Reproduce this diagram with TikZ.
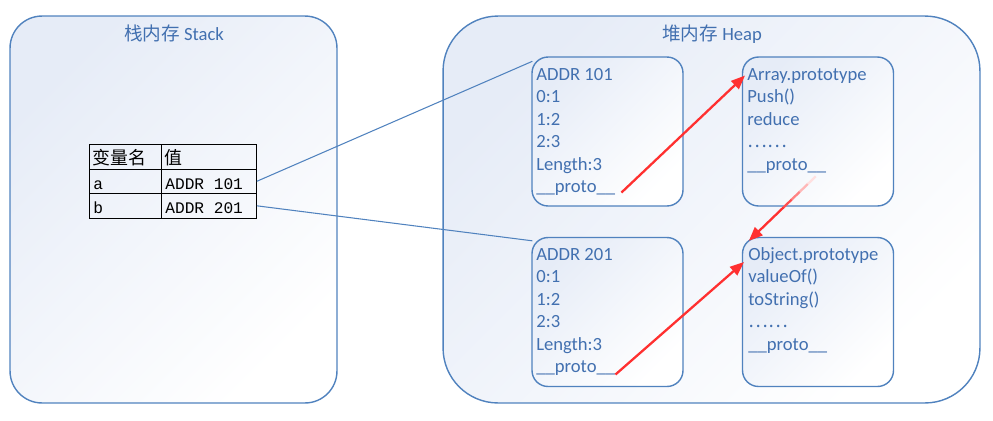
\documentclass[tikz,border=0pt]{standalone}
\usepackage{fontspec}
\setmainfont{Carlito}
\newfontfamily\cjk{Noto Sans CJK SC}
\newfontfamily\monofont{Liberation Mono}
\usetikzlibrary{arrows.meta,calc}
\definecolor{txtblue}{RGB}{66,112,176}
\definecolor{lineblue}{RGB}{80,130,190}
\definecolor{shadeA}{RGB}{230,236,247}
\definecolor{shadeB}{RGB}{246,248,252}
\definecolor{arrred}{RGB}{255,48,48}
\tikzset{
  region/.style={draw=lineblue, line width=0.8pt, top color=shadeA, middle color=shadeB, bottom color=white, shading angle=45, minimum height=7.74cm},
  membox/.style={draw=lineblue, line width=0.8pt, top color=shadeA, middle color=shadeB, bottom color=white, shading angle=45, rounded corners=0.32cm, minimum width=3.02cm, minimum height=2.98cm},
  txt/.style={anchor=base west, inner sep=0pt, text=txtblue, font=\fontsize{10.6pt}{12pt}\selectfont},
  ttl/.style={anchor=base, inner sep=0pt, text=txtblue, font=\fontsize{10.6pt}{12pt}\selectfont},
  cell/.style={draw=black, line width=0.6pt, inner sep=0pt},
  ctxt/.style={anchor=base west, inner sep=0pt, font=\fontsize{9.2pt}{11pt}\selectfont\monofont},
  cjktxt/.style={anchor=base west, inner sep=0pt, font=\fontsize{10.2pt}{11pt}\selectfont\cjk},
  link/.style={draw=lineblue, line width=0.6pt},
  redarrow/.style={draw=arrred, line width=1.3pt, -{Triangle[length=0.28cm,width=0.22cm]}}
}
\begin{document}
\begin{tikzpicture}[x=0.02cm,y=-0.02cm]
\useasboundingbox (0,0) rectangle (993,420);
% regions
\node[region, minimum width=6.54cm, rounded corners=0.64cm] (stack) at (173.5,209.5) {};
\node[region, minimum width=10.74cm, rounded corners=1.1cm] (heap) at (711.5,209.5) {};
\node[ttl] (tstack) at (174,40) {{\cjk 栈内存} Stack};
\node[ttl] (theap) at (712,40) {{\cjk 堆内存} Heap};
% table
\node[cell, minimum width=1.434cm, minimum height=0.5cm] (h1) at (125.3,156.8) {};
\node[cell, minimum width=1.9cm, minimum height=0.5cm] (h2) at (208.8,156.8) {};
\node[cell, minimum width=1.434cm, minimum height=0.48cm] (a1) at (125.3,181.3) {};
\node[cell, minimum width=1.9cm, minimum height=0.48cm] (a2) at (208.8,181.3) {};
\node[cell, minimum width=1.434cm, minimum height=0.5cm] (b1c) at (125.3,205.8) {};
\node[cell, minimum width=1.9cm, minimum height=0.5cm] (b2c) at (208.8,205.8) {};
\node[cjktxt] (th1) at (92,164.5) {变量名};
\node[cjktxt] (th2) at (164,164.5) {值};
\node[ctxt] (ta1) at (93,189.5) {a};
\node[ctxt] (ta2) at (165,189.5) {ADDR 101};
\node[ctxt] (tb1) at (93,213.5) {b};
\node[ctxt] (tb2) at (165,213.5) {ADDR 201};
% memory boxes
\node[membox] (m1) at (607.5,131.5) {};
\node[membox] (m2) at (818,131.5) {};
\node[membox] (m3) at (607.5,312) {};
\node[membox] (m4) at (818,312) {};
% box 1
\node[txt] (m1l1) at (536,80) {ADDR 101};
\node[txt] (m1l2) at (536,102.5) {0:1};
\node[txt] (m1l3) at (536,125) {1:2};
\node[txt] (m1l4) at (536,147.5) {2:3};
\node[txt] (m1l5) at (536,170) {Length:3};
\node[txt] (m1p) at (536,192.5) {\_\_proto\_\_};
% box 2
\node[txt] (m2l1) at (747,80) {Array.prototype};
\node[txt] (m2l2) at (747,102.5) {Push()};
\node[txt] (m2l3) at (747,125) {reduce};
\node[txt] (m2l4) at (747,147.5) {{\cjk ……}};
\node[txt] (m2p) at (747,170) {\_\_proto\_\_};
% box 3
\node[txt] (m3l1) at (536,260) {ADDR 201};
\node[txt] (m3l2) at (536,282.5) {0:1};
\node[txt] (m3l3) at (536,305) {1:2};
\node[txt] (m3l4) at (536,327.5) {2:3};
\node[txt] (m3l5) at (536,350) {Length:3};
\node[txt] (m3p) at (536,372.5) {\_\_proto\_\_};
% box 4
\node[txt] (m4l1) at (748,260) {Object.prototype};
\node[txt] (m4l2) at (748,282.5) {valueOf()};
\node[txt] (m4l3) at (748,305) {toString()};
\node[txt] (m4l4) at (748,327.5) {{\cjk ……}};
\node[txt] (m4p) at (748,350) {\_\_proto\_\_};
% blue links
\draw[link] (a2.east) -- ([shift={(1,5)}]m1.north west);
\draw[link] (b2c.east) -- ([shift={(1,4)}]m3.north west);
% red arrows
\draw[redarrow] ([shift={(6,0)}]m1p.base east) -- ([shift={(-2,0)}]m2l1.west);
\draw[redarrow] ([shift={(0,2)}]m3p.base east) -- ([shift={(-4,2)}]m4l1.base west);
\coordinate (s2) at ([shift={(29,3)}]m2p.south);
\coordinate (e2) at ([shift={(7,4)}]m4.north west);
\draw[arrred!15, line width=1.3pt] (s2) -- ($(s2)!0.12!(e2)$);
\draw[arrred!35, line width=1.3pt] ($(s2)!0.12!(e2)$) -- ($(s2)!0.24!(e2)$);
\draw[arrred!60, line width=1.3pt] ($(s2)!0.24!(e2)$) -- ($(s2)!0.36!(e2)$);
\draw[arrred!85, line width=1.3pt] ($(s2)!0.36!(e2)$) -- ($(s2)!0.48!(e2)$);
\draw[redarrow] ($(s2)!0.48!(e2)$) -- (e2);
\end{tikzpicture}
\end{document}
